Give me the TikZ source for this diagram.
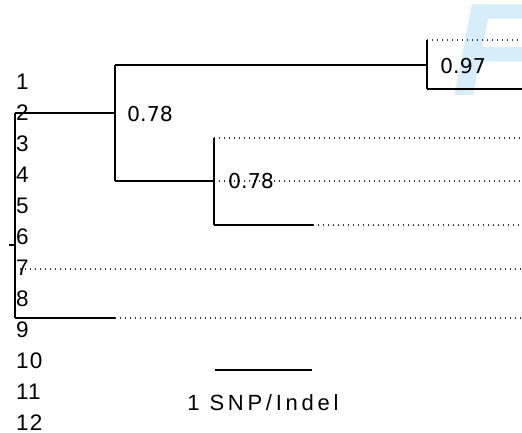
\documentclass[tikz,border=0pt]{standalone}
\usepackage{fontspec}
\newfontfamily\labfont[LetterSpace=5]{Liberation Sans}
\newfontfamily\scalefont[LetterSpace=17]{Liberation Sans}
\newfontfamily\suppfont{DejaVu Sans}
\newfontfamily\wmfont{Liberation Sans}
\definecolor{wmblue}{RGB}{214,238,250}
\begin{document}
\begin{tikzpicture}[x=1pt,y=-1pt,
  branch/.style={line width=2pt},
  guide/.style={line width=1.1pt, dash pattern=on 1pt off 4pt, black!80},
  tiplab/.style={anchor=west, inner sep=0pt, font=\labfont\fontsize{22.5}{22.5}\selectfont},
  supp/.style={anchor=west, inner sep=0pt, font=\suppfont\fontsize{20.5}{20.5}\selectfont},
  scalelab/.style={inner sep=0pt, font=\scalefont\fontsize{22}{22}\selectfont}]
\useasboundingbox (0,0) rectangle (522,432);
\begin{scope}
\clip (0,0) rectangle (522,432);
\node[anchor=base west, inner sep=0pt, text=wmblue, font=\wmfont\bfseries\itshape\fontsize{132}{132}\selectfont] (wm) at (452,95) {F};
\end{scope}
% tip labels
\foreach \i in {1,...,12} {
  \node[tiplab] (t\i) at (16,{82+31*(\i-1)}) {\i};
}
% coordinates
\coordinate (r1) at (15,113);
\coordinate (r2) at (15,318);
\coordinate (rt) at (9,245);
\coordinate (rm) at (15,245);
\coordinate (a) at (115,113);
\coordinate (at) at (115,65);
\coordinate (ab) at (115,181);
\coordinate (b) at (427,65);
\coordinate (b1) at (427,40);
\coordinate (b2) at (427,89);
\coordinate (e1) at (522,40);
\coordinate (e2) at (522,89);
\coordinate (c) at (214,181);
\coordinate (c1) at (214,138);
\coordinate (c2) at (214,225);
\coordinate (e3) at (522,138);
\coordinate (e4) at (522,181);
\coordinate (c2e) at (313,225);
\coordinate (e5) at (522,225);
\coordinate (s7) at (15,269);
\coordinate (e6) at (522,269);
\coordinate (d) at (115,318);
\coordinate (e7) at (522,318);
% dotted guides
\draw[guide] (b1) -- (e1);
\draw[guide] (c1) -- (e3);
\draw[guide] (c) -- (e4);
\draw[guide] (c2e) -- (e5);
\draw[guide] (s7) -- (e6);
\draw[guide] (d) -- (e7);
% tree
\draw[branch] (r1) -- (r2);
\draw[branch] (rt) -- (rm);
\draw[branch] (r1) -- (a);
\draw[branch] (r2) -- (d);
\draw[branch] (at) -- (ab);
\draw[branch] (at) -- (b);
\draw[branch] (b1) -- (b2);
\draw[branch] (b2) -- (e2);
\draw[branch] (ab) -- (c);
\draw[branch] (c1) -- (c2);
\draw[branch] (c2) -- (c2e);
% support values
\node[supp] (s1) at (440,66) {0.97};
\node[supp] (s2) at (127,114) {0.78};
\node[supp] (s3) at (228,181) {0.78};
% scale bar
\coordinate (sb1) at (215,370);
\coordinate (sb2) at (312,370);
\draw[branch] (sb1) -- (sb2);
\node[scalelab] (sl) at (263,403) {1 SNP/Indel};
\end{tikzpicture}
\end{document}
